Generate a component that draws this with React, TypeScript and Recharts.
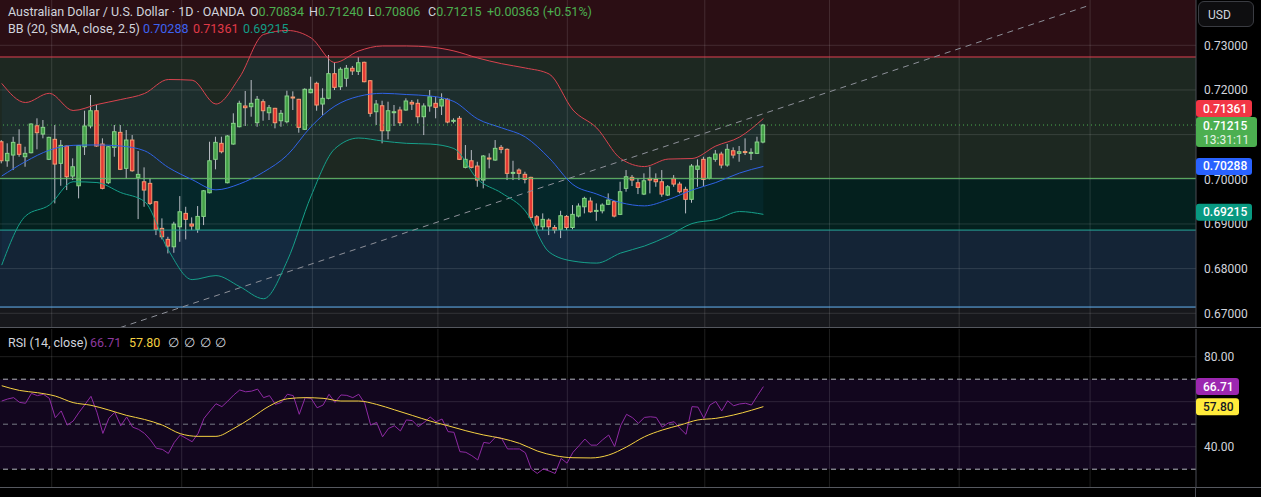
import React from "react";
import {
  ComposedChart,
  Bar,
  Line,
  Area,
  XAxis,
  YAxis,
  ReferenceLine,
  ReferenceArea,
} from "recharts";

// AUD/USD daily candles
const opens = [
  0.70841, 0.70415, 0.70543, 0.70783, 0.70505, 0.70595, 0.71199, 0.71013, 0.70447, 0.70895,
  0.70357, 0.70745, 0.70073, 0.69855, 0.70729, 0.71193, 0.71535, 0.70789, 0.69923, 0.70715,
  0.71051, 0.70245, 0.70879, 0.70043, 0.69945, 0.69909, 0.69497, 0.68901, 0.68655, 0.68489,
  0.68937, 0.69237, 0.68999, 0.68879, 0.69169, 0.69699, 0.70447, 0.70805, 0.69923, 0.70789,
  0.71177, 0.71641, 0.71625, 0.71267, 0.71737, 0.7149, 0.71589, 0.71311, 0.71289, 0.71842,
  0.71791, 0.71119, 0.71939, 0.72149, 0.71685, 0.71813, 0.72365, 0.72073, 0.72261, 0.72485,
  0.72416, 0.72619, 0.72207, 0.71513, 0.71647, 0.71087, 0.71506, 0.71551, 0.71551, 0.71723,
  0.71701, 0.71401, 0.71641, 0.71701, 0.71641, 0.71791, 0.71311, 0.71365, 0.70267, 0.70415,
  0.70297, 0.69983, 0.70476, 0.70431, 0.70715, 0.70671, 0.70151, 0.70207, 0.70111, 0.70043,
  0.69161, 0.68937, 0.69087, 0.68921, 0.68879, 0.69169, 0.68921, 0.69177, 0.69385, 0.69513,
  0.69295, 0.69295, 0.69439, 0.69499, 0.69215, 0.69797, 0.70043, 0.69923, 0.69669, 0.70021,
  0.69999, 0.69945, 0.69647, 0.70021, 0.69893, 0.69775, 0.69551, 0.70223, 0.70447, 0.70021,
  0.70447, 0.70565, 0.70319, 0.70639, 0.70581, 0.70621, 0.70599, 0.70581, 0.70834,
];
const highs = [
  0.70879, 0.70805, 0.70953, 0.71119, 0.70729, 0.71253, 0.71365, 0.71327, 0.70953, 0.71215,
  0.70879, 0.70755, 0.70469, 0.70767, 0.71535, 0.71887, 0.71663, 0.70917, 0.70745, 0.71215,
  0.71215, 0.71103, 0.70991, 0.70633, 0.70267, 0.70021, 0.69507, 0.69125, 0.68713, 0.69049,
  0.69624, 0.69385, 0.69147, 0.69401, 0.69759, 0.70841, 0.70953, 0.70953, 0.70991, 0.71477,
  0.71759, 0.71977, 0.72223, 0.71865, 0.71791, 0.71663, 0.71599, 0.71551, 0.71983, 0.71969,
  0.71801, 0.72037, 0.72297, 0.72185, 0.72037, 0.72783, 0.72625, 0.72507, 0.72559, 0.72537,
  0.72738, 0.72633, 0.72223, 0.71775, 0.71759, 0.71737, 0.71663, 0.71625, 0.71813, 0.71775,
  0.71791, 0.71701, 0.71999, 0.71849, 0.71925, 0.71813, 0.71365, 0.71417, 0.70767, 0.70655,
  0.70393, 0.70543, 0.70581, 0.70879, 0.70767, 0.70693, 0.70415, 0.70245, 0.70169, 0.70057,
  0.69199, 0.69237, 0.69125, 0.68975, 0.69295, 0.69199, 0.69423, 0.69461, 0.69609, 0.69595,
  0.69461, 0.69461, 0.69685, 0.69521, 0.69945, 0.70207, 0.70095, 0.70021, 0.70133, 0.70281,
  0.70133, 0.70207, 0.69871, 0.70095, 0.69945, 0.69833, 0.70341, 0.70447, 0.70505, 0.70505,
  0.70655, 0.70617, 0.70789, 0.70715, 0.70745, 0.70917, 0.70693, 0.70953, 0.7124,
];
const lows = [
  0.70357, 0.70281, 0.70207, 0.70505, 0.70281, 0.70581, 0.70671, 0.70917, 0.70431, 0.69461,
  0.69855, 0.69759, 0.69983, 0.69573, 0.70543, 0.71141, 0.70729, 0.69775, 0.69893, 0.70505,
  0.70207, 0.70021, 0.70169, 0.69109, 0.69385, 0.69423, 0.68751, 0.68655, 0.68341, 0.68355,
  0.68601, 0.68655, 0.68863, 0.68803, 0.68975, 0.69685, 0.70223, 0.70581, 0.69909, 0.70775,
  0.71163, 0.71193, 0.71401, 0.71177, 0.71311, 0.71327, 0.71141, 0.71177, 0.71253, 0.71551,
  0.71043, 0.71103, 0.71925, 0.71535, 0.71439, 0.71791, 0.71999, 0.71999, 0.72073, 0.72335,
  0.72335, 0.72171, 0.71401, 0.71215, 0.70805, 0.70895, 0.71193, 0.71193, 0.71535, 0.71551,
  0.71253, 0.70991, 0.71513, 0.71365, 0.71439, 0.71253, 0.71253, 0.70431, 0.70245, 0.70245,
  0.69833, 0.69797, 0.70245, 0.70415, 0.70581, 0.69983, 0.69983, 0.69983, 0.69909, 0.69087,
  0.68825, 0.68863, 0.68751, 0.68789, 0.68684, 0.68863, 0.68879, 0.69147, 0.69237, 0.69251,
  0.69071, 0.69237, 0.69423, 0.69147, 0.69199, 0.69722, 0.69849, 0.69669, 0.69647, 0.69685,
  0.69833, 0.69609, 0.69625, 0.69833, 0.69685, 0.69237, 0.69475, 0.69833, 0.69849, 0.69999,
  0.70393, 0.70245, 0.70281, 0.70469, 0.70393, 0.70543, 0.70431, 0.70565, 0.70806,
];
const closes = [
  0.70415, 0.70581, 0.70827, 0.70559, 0.70581, 0.71237, 0.71043, 0.71163, 0.70939, 0.70341,
  0.7076, 0.70057, 0.70281, 0.70757, 0.71193, 0.71535, 0.70745, 0.69797, 0.70729, 0.71065,
  0.70223, 0.70879, 0.70191, 0.7011, 0.69759, 0.69461, 0.68879, 0.68713, 0.68505, 0.68997,
  0.69273, 0.69103, 0.68953, 0.69169, 0.69743, 0.70415, 0.70827, 0.70617, 0.70969, 0.71253,
  0.71701, 0.71603, 0.71701, 0.71791, 0.71535, 0.71603, 0.71267, 0.71477, 0.71865, 0.71835,
  0.71163, 0.72015, 0.72015, 0.71663, 0.71813, 0.72365, 0.72059, 0.72463, 0.72485, 0.72425,
  0.7261, 0.72185, 0.71477, 0.71685, 0.71087, 0.71535, 0.71513, 0.71267, 0.71753, 0.71685,
  0.71401, 0.71641, 0.71849, 0.71611, 0.71791, 0.71282, 0.7132, 0.70447, 0.70447, 0.70267,
  0.69983, 0.70521, 0.70461, 0.70693, 0.70671, 0.70133, 0.70155, 0.70133, 0.69999, 0.69147,
  0.68975, 0.69103, 0.68937, 0.68863, 0.69185, 0.68921, 0.69215, 0.69401, 0.69573, 0.69273,
  0.69304, 0.69423, 0.69535, 0.69177, 0.69722, 0.70057, 0.69983, 0.69819, 0.69967, 0.69983,
  0.69945, 0.69669, 0.69833, 0.69893, 0.69722, 0.69551, 0.70297, 0.70297, 0.69999, 0.70483,
  0.70565, 0.70319, 0.70671, 0.70543, 0.70617, 0.7061, 0.70603, 0.70834, 0.71215,
];

// Bollinger bands, sampled every BB_STEP candles
const BB_STEP = 4;
const bbUpper = [
  0.72147, 0.71719, 0.71925, 0.7154, 0.71674, 0.71786, 0.71921, 0.72234, 0.72219, 0.71685,
  0.7229, 0.73242, 0.73332, 0.73164, 0.72615, 0.72873, 0.72985, 0.72985, 0.72962, 0.72873,
  0.72716, 0.72588, 0.72492, 0.72357, 0.71551, 0.71148, 0.70465, 0.70285, 0.70453, 0.70465,
  0.70745, 0.70946, 0.71361,
];
const bbBasis = [
  0.70073, 0.70397, 0.70651, 0.7076, 0.70769, 0.70745, 0.70639, 0.70265, 0.69992, 0.69764,
  0.69898, 0.70162, 0.70543, 0.71181, 0.71641, 0.71858, 0.71925, 0.71898, 0.71865, 0.71741,
  0.71349, 0.71152, 0.70946, 0.70476, 0.69882, 0.69669, 0.69479, 0.69405, 0.69546, 0.69759,
  0.69927, 0.7014, 0.70288,
];
const bbLower = [
  0.68079, 0.69177, 0.69423, 0.69945, 0.69927, 0.69703, 0.69502, 0.68415, 0.67754, 0.67844,
  0.67597, 0.67326, 0.6818, 0.69629, 0.70686, 0.70924, 0.70857, 0.70805, 0.70789, 0.70689,
  0.69997, 0.69692, 0.69289, 0.6837, 0.68169, 0.68124, 0.68348, 0.68505, 0.68729, 0.69009,
  0.69098, 0.69278, 0.69215,
];

// RSI(14) per candle and its moving average at sampled candles
const rsi = [
  60.3, 61.2, 61.8, 59.7, 59.3, 63.7, 62.7, 63.3, 61.5, 52.9,
  55.9, 49.6, 51.4, 55.3, 58.8, 62.4, 55.3, 45.9, 52.6, 55.3,
  49.3, 53.2, 48.7, 47.7, 45.9, 43.0, 39.3, 38.8, 37.0, 41.9,
  45.2, 43.7, 42.2, 45.9, 52.6, 55.9, 59.1, 57.8, 60.3, 63.0,
  65.2, 64.4, 64.7, 65.6, 61.8, 62.7, 58.8, 59.7, 63.3, 62.7,
  54.4, 61.8, 61.5, 57.3, 58.5, 63.3, 59.7, 63.0, 62.8, 61.8,
  63.3, 59.3, 49.6, 50.8, 44.4, 48.1, 49.3, 47.0, 51.9, 51.6,
  48.9, 50.8, 53.2, 51.1, 52.3, 46.7, 46.4, 37.8, 37.5, 36.0,
  34.1, 41.9, 41.5, 44.3, 43.7, 39.0, 39.0, 39.0, 37.3, 30.1,
  28.1, 30.1, 29.2, 28.1, 34.8, 32.7, 37.5, 40.4, 43.4, 40.7,
  40.7, 43.1, 45.2, 40.1, 49.3, 54.4, 52.9, 50.4, 53.0, 53.3,
  53.0, 48.7, 50.5, 51.1, 48.1, 45.5, 57.8, 57.6, 52.6, 58.5,
  60.1, 55.9, 60.4, 58.2, 59.0, 59.3, 58.5, 62.7, 66.71,
];
const rsiMaAt = [
  0, 3, 6, 9, 12, 15, 18, 21, 24, 27, 30, 33, 36, 39, 42, 45, 48, 51, 54, 57, 60, 63,
  66, 69, 72, 75, 78, 81, 84, 87, 90, 93, 96, 99, 102, 105, 108, 111, 114, 117, 120, 123, 126, 128,
];
const rsiMa = [
  67.1, 65.0, 64.0, 62.5, 59.6, 58.4, 56.3, 53.9, 52.1, 49.6, 45.8, 44.6, 44.6, 48.1, 52.9, 58.1,
  61.3, 61.8, 61.5, 60.3, 60.3, 58.8, 56.4, 53.9, 51.4, 49.3, 47.1, 45.2, 43.7, 41.5, 38.1, 36.0,
  35.1, 35.0, 36.3, 39.9, 44.4, 47.4, 49.6, 51.9, 52.6, 54.1, 56.2, 57.8,
];

// drawn levels (zone borders) and the trend line
const levelRed = 0.72738;
const levelGreen = 0.70021;
const levelTeal = 0.68863;
const levelBlue = 0.6714;
const trendFrom = { x: 19.9, y: 0.6668 };
const trendTo = { x: 182.9, y: 0.739 };

// grid levels; the labelled ones leave out those hidden under the badges
const priceGrid = [0.67, 0.68, 0.69, 0.7, 0.71, 0.72, 0.73];
const priceTicks = [0.67, 0.68, 0.69, 0.7, 0.72, 0.73];
const rsiGrid = [40, 60, 80];
const rsiTicks = [40, 80];
const monthLines = [8.4, 30.25, 52.2, 73.3, 95.05, 118.15, 139.1, 160.9, 182.9];

const PRICE_DOMAIN = [0.66671, 0.74014];
const RSI_DOMAIN = [22.09, 92.31];
const X_DOMAIN = [-0.29, 200.7];

const FONT = "Roboto, 'Noto Sans', sans-serif";
const TXT = "#d1d4dc";
const UP = "#43a047";
const UP_EDGE = "#86d388";
const DOWN = "#e53935";
const DOWN_EDGE = "#f59a70";
const WICK = "#b8bcc4";
const GRID = "rgba(255,255,255,0.12)";
const MARGIN = { top: 0, right: 0, bottom: 0, left: 0 };

const rows = opens.map((o, i) => ({
  i,
  o,
  h: highs[i],
  l: lows[i],
  c: closes[i],
  range: [lows[i], highs[i]],
  rsi: rsi[i],
}));

const bbRows = bbUpper.map((u, k) => ({
  i: k * BB_STEP,
  u,
  m: bbBasis[k],
  l: bbLower[k],
  band: [bbLower[k], u],
}));

const maRows = rsiMaAt.map((i, k) => ({ i, ma: rsiMa[k] }));

function Candle(props: any) {
  const { x, y, width, height, payload } = props;
  const { o, h, l, c } = payload;
  const cx = x + width / 2;
  const k = height / (h - l);
  const yO = y + (h - o) * k;
  const yC = y + (h - c) * k;
  const top = Math.min(yO, yC);
  const bh = Math.max(Math.abs(yO - yC), 1);
  const up = c >= o;
  return (
    <g>
      <line x1={cx} x2={cx} y1={y} y2={y + height} stroke={WICK} strokeWidth={1} />
      <rect
        x={cx - 1.75}
        y={top}
        width={3.5}
        height={bh}
        fill={up ? UP : DOWN}
        stroke={up ? UP_EDGE : DOWN_EDGE}
        strokeWidth={1}
      />
    </g>
  );
}

function Badge(props: any) {
  const { viewBox, text, sub, bg, color = "#fff", dy = 0, w = 56 } = props;
  if (!viewBox) return null;
  const x = viewBox.x + viewBox.width;
  const cy = viewBox.y + dy;
  const h = sub ? 30 : 17;
  const top = sub ? cy - 8 : cy - h / 2;
  return (
    <g>
      <rect x={x} y={top} width={w} height={h} rx={3} fill={bg} />
      <text x={x + 7} y={top + 12.5} fill={color} fontSize={12} fontFamily={FONT} fontWeight={500}>
        {text}
      </text>
      {sub && (
        <text x={x + 7} y={top + 26.5} fill={color} fontSize={12} fontFamily={FONT} opacity={0.85}>
          {sub}
        </text>
      )}
    </g>
  );
}

const abs = (left: number, top: number): React.CSSProperties => ({
  position: "absolute",
  left,
  top,
  whiteSpace: "nowrap",
  fontSize: 12.5,
  lineHeight: "16px",
});

const noLine = { strokeOpacity: 0 };

export default function App() {
  const green = "#4caf50";
  const lastClose = closes[closes.length - 1];
  return (
    <div
      style={{
        position: "absolute",
        left: 0,
        top: 0,
        width: 1261,
        height: 497,
        background: "#000",
        overflow: "hidden",
        fontFamily: FONT,
        color: TXT,
      }}
    >
      <div style={{ position: "absolute", left: 0, top: 0 }}>
        <ComposedChart width={1261} height={328} data={rows} margin={MARGIN}>
          <XAxis dataKey="i" type="number" domain={X_DOMAIN} hide allowDataOverflow />
          <YAxis
            orientation="right"
            width={65}
            domain={PRICE_DOMAIN}
            ticks={priceTicks}
            allowDataOverflow
            tickFormatter={(v: number) => v.toFixed(5)}
            tick={{ fill: TXT, fontSize: 12, fontFamily: FONT }}
            tickLine={false}
            axisLine={{ stroke: "#4a4d55" }}
          />
          <ReferenceArea y1={levelRed} y2={PRICE_DOMAIN[1]} fill="#2b0e14" fillOpacity={1} stroke="none" ifOverflow="hidden" />
          <ReferenceArea y1={levelGreen} y2={levelRed} fill="#1d2821" fillOpacity={1} stroke="none" ifOverflow="hidden" />
          <ReferenceArea y1={levelTeal} y2={levelGreen} fill="#04201e" fillOpacity={1} stroke="none" ifOverflow="hidden" />
          <ReferenceArea y1={levelBlue} y2={levelTeal} fill="#142436" fillOpacity={1} stroke="none" ifOverflow="hidden" />
          <ReferenceArea y1={PRICE_DOMAIN[0]} y2={levelBlue} fill="#17181c" fillOpacity={1} stroke="none" ifOverflow="hidden" />
          {priceGrid.map((t) => (
            <ReferenceLine key={"g" + t} y={t} stroke={GRID} />
          ))}
          {monthLines.map((t) => (
            <ReferenceLine key={"v" + t} x={t} stroke={GRID} />
          ))}
          <ReferenceLine y={levelRed} stroke="#e04050" />
          <ReferenceLine y={levelGreen} stroke="#66bb6a" />
          <ReferenceLine y={levelTeal} stroke="#26a69a" />
          <ReferenceLine y={levelBlue} stroke="#64b5f6" />
          <ReferenceLine segment={[trendFrom, trendTo]} stroke="#8d9099" strokeDasharray="6 5" />
          <Area
            data={bbRows}
            dataKey="band"
            type="monotone"
            stroke="none"
            fill="#2196f3"
            fillOpacity={0.06}
            dot={false}
            activeDot={false}
            isAnimationActive={false}
          />
          <Line data={bbRows} dataKey="u" type="monotone" stroke="#d9434f" strokeWidth={1} dot={false} activeDot={false} isAnimationActive={false} />
          <Line data={bbRows} dataKey="m" type="monotone" stroke="#2f63e6" strokeWidth={1} dot={false} activeDot={false} isAnimationActive={false} />
          <Line data={bbRows} dataKey="l" type="monotone" stroke="#16a08a" strokeWidth={1} dot={false} activeDot={false} isAnimationActive={false} />
          <Bar dataKey="range" barSize={5} shape={(p: any) => <Candle {...p} />} isAnimationActive={false} />
          <ReferenceLine y={lastClose} stroke={green} strokeDasharray="1 3" />
        </ComposedChart>
      </div>

      {/* price badges drawn on top of the axis labels */}
      <div style={{ position: "absolute", left: 0, top: 0, pointerEvents: "none" }}>
        <ComposedChart width={1261} height={328} data={rows} margin={MARGIN}>
          <XAxis dataKey="i" type="number" domain={X_DOMAIN} hide allowDataOverflow />
          <YAxis orientation="right" width={65} domain={PRICE_DOMAIN} allowDataOverflow tick={false} axisLine={false} tickLine={false} />
          <ReferenceLine y={bbBasis[bbBasis.length - 1]} {...noLine} label={<Badge text="0.70288" bg="#2962ff" />} />
          <ReferenceLine y={bbLower[bbLower.length - 1]} {...noLine} label={<Badge text="0.69215" bg="#089981" dy={-2} />} />
          <ReferenceLine y={bbUpper[bbUpper.length - 1]} {...noLine} label={<Badge text="0.71361" bg="#f23645" dy={-10} />} />
          <ReferenceLine y={lastClose} {...noLine} label={<Badge text="0.71215" sub="13:31:11" bg={green} w={61} />} />
        </ComposedChart>
      </div>

      <div style={{ position: "absolute", left: 0, top: 327, width: 1261, height: 1, background: "#55585f" }} />

      <div style={{ position: "absolute", left: 0, top: 329 }}>
        <ComposedChart width={1261} height={158} data={rows} margin={MARGIN}>
          <XAxis dataKey="i" type="number" domain={X_DOMAIN} hide allowDataOverflow />
          <YAxis
            orientation="right"
            width={65}
            domain={RSI_DOMAIN}
            ticks={rsiTicks}
            allowDataOverflow
            tickFormatter={(v: number) => v.toFixed(2)}
            tick={{ fill: TXT, fontSize: 12, fontFamily: FONT }}
            tickLine={false}
            axisLine={{ stroke: "#4a4d55" }}
          />
          <ReferenceArea y1={30} y2={70} fill="#12061e" fillOpacity={1} stroke="none" />
          {rsiGrid.map((t) => (
            <ReferenceLine key={"r" + t} y={t} stroke={GRID} />
          ))}
          {monthLines.map((t) => (
            <ReferenceLine key={"rv" + t} x={t} stroke={GRID} />
          ))}
          <ReferenceLine y={70} stroke="#b2b5be" strokeDasharray="5 4" />
          <ReferenceLine y={50} stroke="#787b86" strokeDasharray="5 4" />
          <ReferenceLine y={30} stroke="#b2b5be" strokeDasharray="5 4" />
          <Line dataKey="rsi" type="linear" stroke="#8e2aa3" strokeWidth={1} dot={false} activeDot={false} isAnimationActive={false} />
          <Line data={maRows} dataKey="ma" type="monotone" stroke="#f5d142" strokeWidth={1} dot={false} activeDot={false} isAnimationActive={false} />
        </ComposedChart>
      </div>

      <div style={{ position: "absolute", left: 0, top: 329, pointerEvents: "none" }}>
        <ComposedChart width={1261} height={158} data={rows} margin={MARGIN}>
          <XAxis dataKey="i" type="number" domain={X_DOMAIN} hide allowDataOverflow />
          <YAxis orientation="right" width={65} domain={RSI_DOMAIN} allowDataOverflow tick={false} axisLine={false} tickLine={false} />
          <ReferenceLine y={rsi[rsi.length - 1]} {...noLine} label={<Badge text="66.71" bg="#9c27b0" w={43} />} />
          <ReferenceLine y={rsiMa[rsiMa.length - 1]} {...noLine} label={<Badge text="57.80" bg="#ffeb3b" color="#131722" w={43} />} />
        </ComposedChart>
      </div>

      <div style={{ position: "absolute", left: 0, top: 487, width: 1261, height: 1, background: "#55585f" }} />
      <div style={{ position: "absolute", left: 1195, top: 487, width: 1, height: 10, background: "#4a4d55" }} />

      {/* legend texts */}
      <div style={abs(8, 4)}>Australian Dollar / U.S. Dollar · 1D · OANDA</div>
      <div style={abs(250, 4)}>O<span style={{ color: green }}>0.70834</span></div>
      <div style={abs(309, 4)}>H<span style={{ color: green }}>0.71240</span></div>
      <div style={abs(368, 4)}>L<span style={{ color: green }}>0.70806</span></div>
      <div style={abs(428, 4)}>C<span style={{ color: green }}>0.71215</span></div>
      <div style={{ ...abs(487, 4), color: green }}>+0.00363 (+0.51%)</div>

      <div style={abs(8, 21)}>BB (20, SMA, close, 2.5)</div>
      <div style={{ ...abs(143, 21), color: "#3d63f0" }}>0.70288</div>
      <div style={{ ...abs(193, 21), color: "#e03a48" }}>0.71361</div>
      <div style={{ ...abs(243, 21), color: "#129c86" }}>0.69215</div>

      <div style={abs(8, 335)}>RSI (14, close)</div>
      <div style={{ ...abs(90, 335), color: "#8e3a9e" }}>66.71</div>
      <div style={{ ...abs(129, 335), color: "#f5d142" }}>57.80</div>
      <div style={abs(168, 335)}>∅</div>
      <div style={abs(184, 335)}>∅</div>
      <div style={abs(200, 335)}>∅</div>
      <div style={abs(215, 335)}>∅</div>

      <div
        style={{
          position: "absolute",
          left: 1198,
          top: 1,
          width: 56,
          height: 26,
          border: "1px solid #3a3c42",
          borderRadius: 6,
          background: "#0e0e10",
          fontSize: 12,
          lineHeight: "26px",
          paddingLeft: 9,
          boxSizing: "border-box",
        }}
      >
        USD
      </div>
    </div>
  );
}
